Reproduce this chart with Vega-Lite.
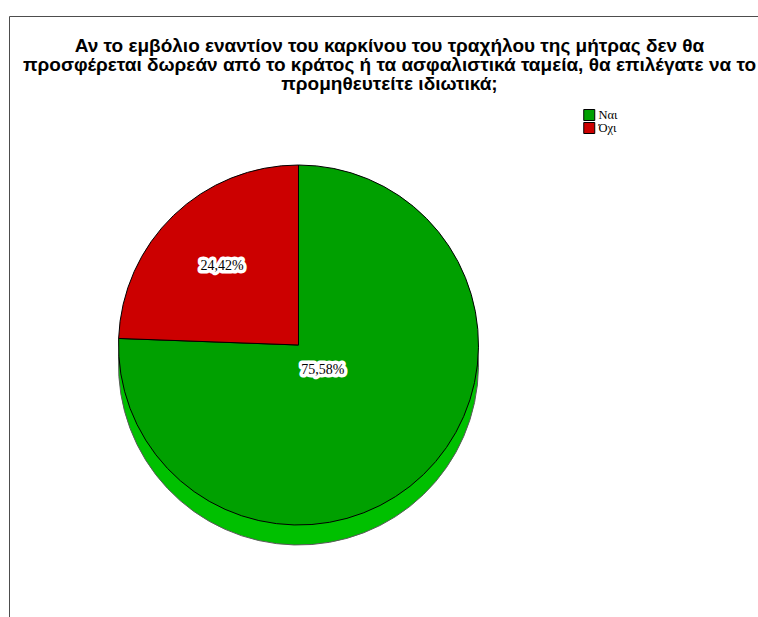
{
  "$schema": "https://vega.github.io/schema/vega-lite/v6.json",
  "width": 761,
  "height": 658,
  "autosize": {"type": "none"},
  "padding": {"left": 9, "top": 16, "right": -12, "bottom": -57},
  "background": "white",
  "view": {"stroke": "#4d4d4d", "strokeWidth": 1},
  "config": {
    "legend": {"padding": 0}
  },
  "title": {
    "text": [
      "Αν το εμβόλιο εναντίον του καρκίνου του τραχήλου της μήτρας δεν θα",
      "προσφέρεται δωρεάν από το κράτος ή τα ασφαλιστικά ταμεία, θα επιλέγατε να το",
      "προμηθευτείτε ιδιωτικά;"
    ],
    "font": "Liberation Sans",
    "fontSize": 19,
    "fontWeight": "bold",
    "color": "#000000",
    "anchor": "middle",
    "orient": "top",
    "offset": -78,
    "lineHeight": 19
  },
  "data": {
    "values": [
      {"answer": "Ναι", "pct": 75.58, "label": "75,58%"},
      {"answer": "Όχι", "pct": 24.42, "label": "24,42%"}
    ]
  },
  "layer": [
    {
      "mark": {"type": "arc", "outerRadius": 180, "xOffset": -91, "yOffset": 20, "color": "#00C000", "stroke": "#5a5a5a", "strokeWidth": 1},
      "encoding": {
        "theta": {"field": "pct", "type": "quantitative"},
        "order": {"field": "pct", "sort": "descending"}
      }
    },
    {
      "mark": {"type": "arc", "outerRadius": 180, "xOffset": -91, "stroke": "#000000", "strokeWidth": 1},
      "encoding": {
        "theta": {"field": "pct", "type": "quantitative"},
        "order": {"field": "pct", "sort": "descending"},
        "color": {
          "field": "answer",
          "type": "nominal",
          "scale": {"domain": ["Ναι", "Όχι"], "range": ["#00A000", "#CC0000"]},
          "legend": {
            "title": null,
            "orient": "none",
            "legendX": 574,
            "legendY": 93,
            "symbolType": "square",
            "symbolSize": 121,
            "symbolStrokeColor": "#000000",
            "symbolStrokeWidth": 1,
            "symbolOpacity": 1,
            "labelFont": "Liberation Serif",
            "labelFontSize": 12.5,
            "labelColor": "#000000",
            "labelOffset": 3,
            "rowPadding": 0,
            "clipHeight": 12
          }
        }
      }
    },
    {
      "mark": {"type": "text", "font": "Liberation Serif", "fontSize": 14, "xOffset": -91, "color": "#ffffff", "stroke": "#ffffff", "strokeWidth": 7, "strokeJoin": "round"},
      "encoding": {
        "theta": {"field": "pct", "type": "quantitative", "stack": true},
        "order": {"field": "pct", "sort": "descending"},
        "radius": {"field": "pct", "type": "quantitative", "scale": {"type": "linear", "zero": false, "domain": [24.42, 75.58], "range": [110, 35]}},
        "text": {"field": "label", "type": "nominal"}
      }
    },
    {
      "mark": {"type": "text", "font": "Liberation Serif", "fontSize": 14, "xOffset": -91, "color": "#000000"},
      "encoding": {
        "theta": {"field": "pct", "type": "quantitative", "stack": true},
        "order": {"field": "pct", "sort": "descending"},
        "radius": {"field": "pct", "type": "quantitative", "scale": {"type": "linear", "zero": false, "domain": [24.42, 75.58], "range": [110, 35]}},
        "text": {"field": "label", "type": "nominal"}
      }
    }
  ]
}
